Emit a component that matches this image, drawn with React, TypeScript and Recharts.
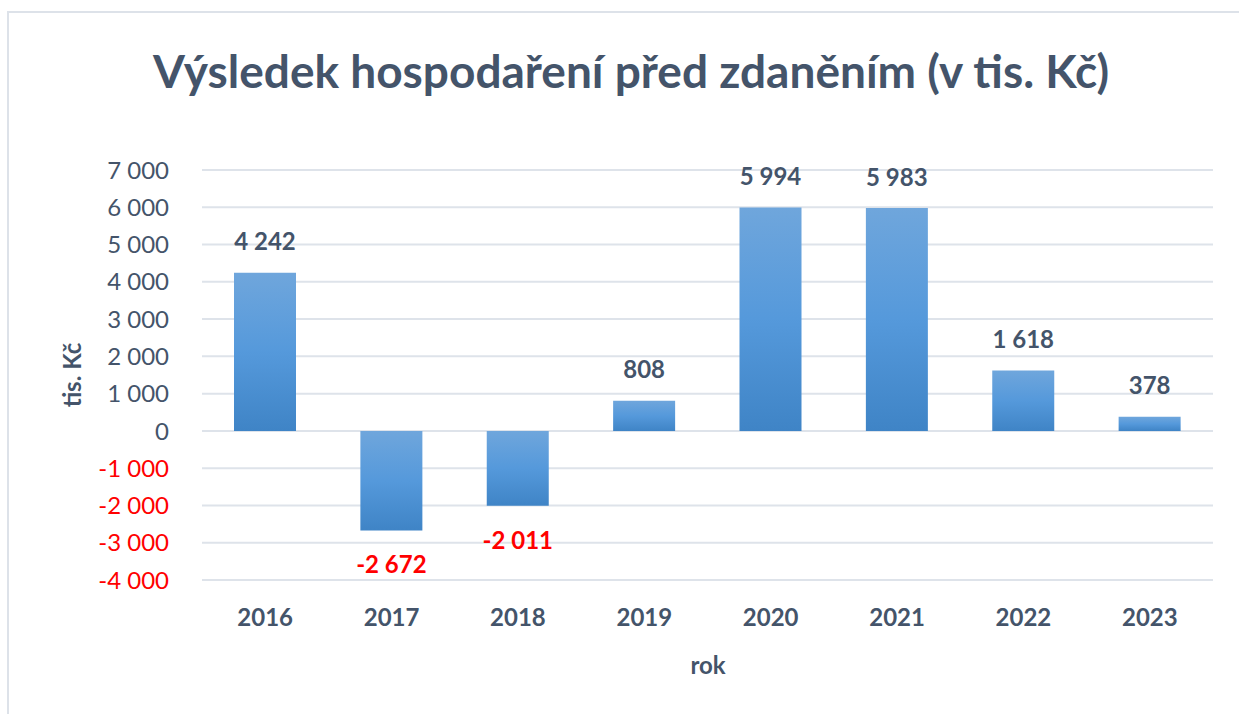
import { Bar, BarChart, CartesianGrid, LabelList, XAxis, YAxis } from "recharts";

const years = ["2016", "2017", "2018", "2019", "2020", "2021", "2022", "2023"];
const results = [4242, -2672, -2011, 808, 5994, 5983, 1618, 378];
const yTicks = [-4000, -3000, -2000, -1000, 0, 1000, 2000, 3000, 4000, 5000, 6000, 7000];

const data = years.map((year, i) => ({ year, value: results[i] }));

const TEXT = "#44546A";
const RED = "#FF0000";
const FONT = "Lato, 'Open Sans', sans-serif";

const fmt = (v: number) => {
  const s = String(Math.abs(v)).replace(/\B(?=(\d{3})+(?!\d))/g, " ");
  return v < 0 ? `-${s}` : s;
};

const YTick = (props: any) => {
  const { x, y, payload } = props;
  const v = payload.value as number;
  return (
    <text
      x={x}
      y={y}
      dy="0.36em"
      textAnchor="end"
      fill={v < 0 ? RED : TEXT}
      fontSize={24}
      fontFamily={FONT}
    >
      {fmt(v)}
    </text>
  );
};

const ValueLabel = (props: any) => {
  const { x, y, width, height, value } = props;
  const top = Math.min(y, y + height);
  const bottom = Math.max(y, y + height);
  const neg = value < 0;
  return (
    <text
      x={x + width / 2}
      y={neg ? bottom + 34 : top - 31}
      dy="0.36em"
      textAnchor="middle"
      fill={neg ? RED : TEXT}
      fontSize={24}
      fontWeight={700}
      fontFamily={FONT}
    >
      {fmt(value)}
    </text>
  );
};

export default function App() {
  return (
    <div
      style={{
        position: "absolute",
        left: 0,
        top: 0,
        width: 1239,
        height: 714,
        overflow: "hidden",
        background: "#fff",
        fontFamily: FONT,
      }}
    >
      {/* frame: only top and left edges are visible in the crop */}
      <div
        style={{
          position: "absolute",
          left: 7,
          top: 11,
          width: 1400,
          height: 900,
          borderTop: "2px solid #DDE2E9",
          borderLeft: "2px solid #DDE2E9",
        }}
      />
      <div
        style={{
          position: "absolute",
          left: 0,
          width: 1262,
          top: 44,
          textAlign: "center",
          fontSize: 46,
          fontWeight: 700,
          color: TEXT,
          lineHeight: "54px",
        }}
      >
        Výsledek hospodaření před zdaněním (v tis. Kč)
      </div>
      <div
        style={{
          position: "absolute",
          left: 71,
          top: 375,
          transform: "translate(-50%, -50%) rotate(-90deg)",
          fontSize: 24,
          fontWeight: 700,
          color: TEXT,
          whiteSpace: "nowrap",
        }}
      >
        tis. Kč
      </div>
      <div
        style={{
          position: "absolute",
          left: 708,
          top: 664,
          transform: "translate(-50%, -50%)",
          fontSize: 24,
          fontWeight: 700,
          color: TEXT,
        }}
      >
        rok
      </div>
      <div style={{ position: "absolute", left: 0, top: 0 }}>
        <BarChart
          width={1239}
          height={714}
          data={data}
          margin={{ top: 170, right: 26, bottom: 104, left: 0 }}
        >
          <defs>
            <linearGradient id="barFill" x1="0" y1="0" x2="0" y2="1">
              <stop offset="0%" stopColor="#6FA6DC" />
              <stop offset="50%" stopColor="#5599DB" />
              <stop offset="100%" stopColor="#3F84C6" />
            </linearGradient>
          </defs>
          <CartesianGrid vertical={false} stroke="#DEE3EA" strokeWidth={2} />
          <XAxis
            dataKey="year"
            height={30}
            axisLine={false}
            tickLine={false}
            tickMargin={23}
            tick={{ fill: TEXT, fontSize: 24, fontWeight: 700, fontFamily: FONT }}
          />
          <YAxis
            width={202}
            domain={[-4000, 7000]}
            ticks={yTicks}
            interval={0}
            axisLine={false}
            tickLine={false}
            tickMargin={27}
            tick={<YTick />}
          />
          <Bar dataKey="value" fill="url(#barFill)" barSize={62} isAnimationActive={false}>
            <LabelList dataKey="value" content={<ValueLabel />} />
          </Bar>
        </BarChart>
      </div>
    </div>
  );
}
